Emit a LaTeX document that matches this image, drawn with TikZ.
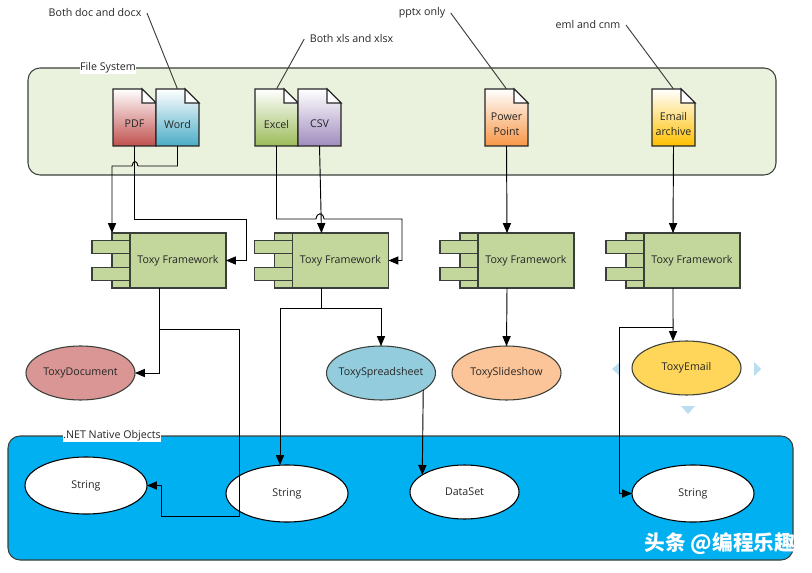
\documentclass[tikz,border=0pt]{standalone}
\usepackage{fontspec}
\setmainfont{Open Sans}
\newfontfamily\cjkfont{Noto Sans CJK SC}
\usetikzlibrary{arrows,positioning,shapes.geometric}

\definecolor{fsfill}{HTML}{EAF1DD}
\definecolor{fwfill}{HTML}{C3D69B}
\definecolor{edge}{HTML}{3A3F3A}
\definecolor{netblue}{HTML}{00B0F0}
\definecolor{hint}{HTML}{BBDDF0}
\definecolor{pdfred}{HTML}{C0504D}
\definecolor{wordblue}{HTML}{4BACC6}
\definecolor{xlsgreen}{HTML}{9BBB59}
\definecolor{csvpurple}{HTML}{A08CBE}
\definecolor{pptorange}{HTML}{F79646}
\definecolor{mailyellow}{HTML}{FFC000}

% one file icon: name, x, y of centre, colour, text
\newcommand{\filedoc}[5]{
\node [docbox] (#1) at (#2,#3) {};
\path [docline, top color=white, middle color=#4!10, bottom color=#4] (#1.north west) -- ++(29,0) -- ++(14,14) -- (#1.south east) -- (#1.south west) -- cycle;
\path [docline, fill=white] (#1.north west) ++(29,0) -- ++(14,14) -- ++(-14,0) -- cycle;
\node [doctext] (#1 text) at ([yshift=-4.9pt]#1.center) {#5};
}

\begin{document}
\begin{tikzpicture}[x=0.75pt,y=-0.75pt,font=\fontsize{8}{11}\selectfont,text=black!85]
\tikzstyle{region} = [rectangle, draw=edge, thick, rounded corners=9pt, inner sep=0pt, outer sep=0pt]
\tikzstyle{caption} = [fill=white, inner sep=0.5pt]
\tikzstyle{note} = [inner sep=4pt]
\tikzstyle{callout} = [draw=edge, line width=0.7pt]
\tikzstyle{docbox} = [rectangle, minimum width=32.25pt, minimum height=42.75pt, inner sep=0pt, outer sep=0pt]
\tikzstyle{docline} = [draw=black!85, thick]
\tikzstyle{doctext} = [align=center, inner sep=0pt]
\tikzstyle{fwbody} = [rectangle, draw=edge, thick, fill=fwfill, minimum width=72pt, minimum height=41.25pt, inner sep=0pt, outer sep=0pt]
\tikzstyle{fwback} = [rectangle, draw=edge, thick, fill=fwfill, minimum width=13.5pt, minimum height=41.25pt, inner sep=0pt, outer sep=0pt]
\tikzstyle{fwtab} = [rectangle, draw=edge, thick, fill=fwfill, minimum width=28.5pt, minimum height=9.75pt, inner sep=0pt, outer sep=0pt]
\tikzstyle{toxy} = [ellipse, draw=edge, thick, minimum width=81.75pt, minimum height=40.5pt, inner sep=0pt, outer sep=0pt]
\tikzstyle{native} = [ellipse, draw=black, thick, fill=white, minimum width=91.5pt, minimum height=42.75pt, inner sep=0pt, outer sep=0pt]
\tikzstyle{line} = [draw=black, line width=0.7pt, -triangle 45]
\tikzstyle{stem} = [draw=black, line width=0.7pt]
\useasboundingbox (0,0) rectangle (812,573);

% regions
\node [region, fill=fsfill, minimum width=561pt, minimum height=80.25pt] (filesys) at (402,121.5) {};
\node [region, fill=netblue, minimum width=588.75pt, minimum height=93pt] (netobj) at (400.5,498) {};
\node [caption] (filesys label) at (108,68) {File System};
\node [caption] (netobj label) at (112,436) {.NET Native Objects};

% files
\filedoc{pdf}{134.5}{117.5}{pdfred}{PDF}
\filedoc{word}{177.5}{117.5}{wordblue}{Word}
\filedoc{excel}{276.5}{117.5}{xlsgreen}{Excel}
\filedoc{csv}{319.5}{117.5}{csvpurple}{CSV}
\filedoc{ppt}{506.5}{117.5}{pptorange}{Power\\Point}
\filedoc{mail}{673.5}{117.5}{mailyellow}{Email\\archive}

% notes
\node [note] (note doc) at (95,13) {Both doc and docx};
\node [note] (note xls) at (351.5,39) {Both xls and xlsx};
\node [note] (note ppt) at (422,13) {pptx only};
\node [note] (note mail) at (588,25) {eml and cnm};
\path [callout] (note doc.east) -- (word.north);
\path [callout] (note xls.west) -- (excel.north);
\path [callout] (note ppt.east) -- (ppt.north);
\path [callout] (note mail.east) -- (mail.north);

% frameworks
\foreach \id/\x in {a/178,b/340.5,c/526,d/692}
{
\node [fwbody] (fw\id) at (\x,260.5) {Toxy Framework};
\node [fwback, left=0pt of fw\id] (back\id) {};
\node [fwtab, anchor=east] (tabup\id) at ([yshift=10.1pt]fw\id.west) {};
\node [fwtab, anchor=east] (tabdn\id) at ([yshift=-10.1pt]fw\id.west) {};
\coordinate (top\id) at ([xshift=-14.25pt]fw\id.north);
\coordinate (bot\id) at ([xshift=-14.25pt]fw\id.south);
}
\coordinate (forka) at ([yshift=-30.75pt]bota);
\coordinate (forkb) at ([yshift=-15pt]botb);
\coordinate (forkd) at ([yshift=-29.25pt]botd);

% objects
\node [toxy, fill=pdfred!60] (toxydoc) at (80.5,373) {ToxyDocument};
\node [toxy, fill=wordblue!60, inner xsep=-3.2pt] (toxysheet) at (381,373) {ToxySpreadsheet};
\node [toxy, fill=pptorange!55] (toxyslide) at (506.5,373) {ToxySlideshow};
\node [toxy, fill=mailyellow!65] (toxymail) at (686.5,368) {ToxyEmail};
\node [native] (stra) at (86,485.5) {String};
\node [native] (strb) at (287,493.5) {String};
\node [toxy, draw=black, fill=white] (dataset) at (464.5,492) {DataSet};
\node [native] (strc) at (693,493.5) {String};

% handles around the selected shape
\fill [hint] (620,362) -- (612,369) -- (620,376) -- cycle;
\fill [hint] (754,362) -- (761,369) -- (754,376) -- cycle;
\fill [hint] (681,406) -- (695,406) -- (688,414) -- cycle;

% file to framework
\path [line] (pdf.south) -- ++(0,73) -- ++(112,0) |- (fwa.east);
\path [line] (word.south) -- ++(0,20) -- ++(-39.5,0) .. controls +(-1,-6) and +(1,-6) .. ++(-6,0) -| (backa.north west);
\path [line] (excel.south) -- ++(0,73) -- ++(39.5,0) .. controls +(1,-7) and +(-1,-7) .. ++(8,0) -- ++(78,0) |- (fwb.east);
\path [line] (csv.south) -- (topb);
\path [line] (ppt.south) -- (topc);
\path [line] (mail.south) -- (topd);

% framework to object
\path [line] (bota) |- (toxydoc.east);
\path [line] (forka) -- ++(80,0) -- ++(0,187) -- ++(-78,0) |- (stra.east);
\path [stem] (botb) -- (forkb);
\path [line] (forkb) -| ([xshift=-5.25pt]strb.north);
\path [line] (forkb) -| (toxysheet.north);
\path [line] (toxysheet.-22) -- (dataset.158);
\path [line] (botc) -- (toxyslide.north);
\path [line] (botd) -- ([xshift=-10.1pt]toxymail.north);
\path [line] (forkd) -- ++(-54,0) |- (strc.west);

% watermark
\node [text=white, inner sep=0pt, font=\cjkfont\bfseries\fontsize{15.5}{18}\selectfont] (mark) at (720,544) {头条 @编程乐趣};
\end{tikzpicture}
\end{document}
